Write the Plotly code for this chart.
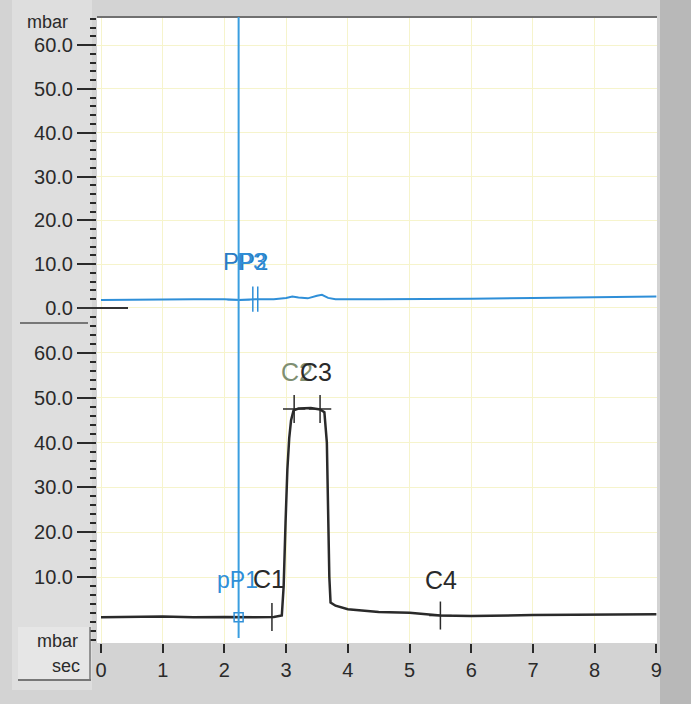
import plotly.graph_objects as go

# ---- data ----
t_top = [0, 0.5, 1.0, 1.5, 2.0, 2.25, 2.5, 2.8, 3.0, 3.1, 3.2, 3.35, 3.5, 3.58, 3.68, 3.8, 4.5, 5.0, 6.0, 7.0, 8.0, 9.0]
p_top = [1.8, 1.9, 1.95, 2.0, 2.0, 1.8, 2.0, 2.0, 2.3, 2.6, 2.4, 2.2, 2.8, 3.0, 2.3, 2.0, 2.0, 2.0, 2.1, 2.3, 2.5, 2.6]

t_bot = [0, 0.5, 1.0, 1.5, 2.0, 2.5, 2.8, 2.93, 2.96, 2.99, 3.02, 3.05, 3.08, 3.12, 3.2, 3.4, 3.55, 3.62, 3.66, 3.7, 3.72, 3.8, 4.0, 4.5, 5.0, 5.5, 6.0, 7.0, 8.0, 9.0]
p_bot = [1.0, 1.1, 1.2, 1.0, 1.1, 1.0, 1.1, 1.4, 8.0, 22.0, 34.0, 41.0, 45.0, 47.2, 47.6, 47.7, 47.4, 46.8, 40.0, 10.0, 4.3, 3.6, 2.8, 2.2, 2.0, 1.4, 1.3, 1.5, 1.6, 1.7]

cursor_t = 2.23
mark_p23_t = [2.46, 2.54]
mark_p23_v = [2.0, 2.0]
mark_c_t = [2.77, 3.13, 3.55, 5.5]
mark_c_v = [1.1, 47.5, 47.5, 1.4]
pp1_t = [2.23]
pp1_v = [1.0]

x_ticks = [0, 1, 2, 3, 4, 5, 6, 7, 8, 9]
y_top_ticks = [0, 10, 20, 30, 40, 50, 60]
y_bot_ticks = [10, 20, 30, 40, 50, 60]

FONT = "Liberation Sans, Arial, sans-serif"
BLUE = "#2f8fd8"
DARK = "#2a2a2a"
GRID = "#f6f4cc"

fig = go.Figure()

fig.add_trace(go.Scatter(x=t_top, y=p_top, mode="lines", yaxis="y2",
                         line=dict(color=BLUE, width=2), showlegend=False))
fig.add_trace(go.Scatter(x=t_bot, y=p_bot, mode="lines", yaxis="y",
                         line=dict(color=DARK, width=2.5), showlegend=False))

# cursor markers
fig.add_trace(go.Scatter(x=mark_p23_t, y=mark_p23_v, mode="markers", yaxis="y2",
                         marker=dict(symbol="line-ns", size=18, color=BLUE, line=dict(color=BLUE, width=1.5)),
                         showlegend=False))
fig.add_trace(go.Scatter(x=[cursor_t], y=[1.9], mode="markers", yaxis="y2",
                         marker=dict(symbol="line-ew", size=16, color=BLUE, line=dict(color=BLUE, width=1.5)),
                         showlegend=False))
fig.add_trace(go.Scatter(x=mark_c_t, y=mark_c_v, mode="markers", yaxis="y",
                         marker=dict(symbol="line-ns", size=20, color=DARK, line=dict(color=DARK, width=1.5)),
                         showlegend=False))
fig.add_trace(go.Scatter(x=[mark_c_t[1], mark_c_t[2], mark_c_t[3]], y=[mark_c_v[1], mark_c_v[2], mark_c_v[3]],
                         mode="markers", yaxis="y",
                         marker=dict(symbol="line-ew", size=16, color=DARK, line=dict(color=DARK, width=1.5)),
                         showlegend=False))
fig.add_trace(go.Scatter(x=pp1_t, y=pp1_v, mode="markers", yaxis="y",
                         marker=dict(symbol="square-open", size=9, color=BLUE, line=dict(color=BLUE, width=1.5)),
                         showlegend=False))

# labels
def lab(text, x, y, yref, color, size=25):
    fig.add_annotation(text=text, x=x, y=y, xref="x", yref=yref, showarrow=False,
                       xanchor="left", yanchor="middle",
                       font=dict(family=FONT, size=size, color=color))

lab("PP2", 1.95, 10.5, "y2", "#2a7cc4", 24)
lab("P3", 2.17, 10.5, "y2", "#2f8fd8", 24)
lab("pP1", 1.84, 9.3, "y", "#2f8fd8", 23)
lab("C1", 2.43, 9.6, "y", DARK)
lab("C2", 2.88, 55.8, "y", "#7f8f72")
lab("C3", 3.2, 55.8, "y", DARK)
lab("C4", 5.22, 9.3, "y", DARK)

shapes = []
W = 560.0
H = 626.0
def px(xp):
    return (xp - 97) / W
def py(yp):
    return (643 - yp) / H

# right dark strip
shapes.append(dict(type="rect", xref="paper", yref="paper", x0=px(660), x1=px(700), y0=py(710), y1=py(-10),
                   fillcolor="#b8b8b8", line=dict(width=0), layer="below"))
# left light column
shapes.append(dict(type="rect", xref="paper", yref="paper", x0=px(12), x1=px(92), y0=py(690), y1=py(0),
                   fillcolor="#dedede", line=dict(width=0), layer="below"))
# top label box border (bottom edge)
shapes.append(dict(type="line", xref="paper", yref="paper", x0=px(20), x1=px(88), y0=py(323), y1=py(323),
                   line=dict(color="#777777", width=2)))
# bottom "mbar/sec" box
shapes.append(dict(type="rect", xref="paper", yref="paper", x0=px(18), x1=px(90), y0=py(680), y1=py(627),
                   fillcolor="#e6e6e6", line=dict(width=0), layer="below"))
shapes.append(dict(type="line", xref="paper", yref="paper", x0=px(18), x1=px(91), y0=py(680), y1=py(680),
                   line=dict(color="#777777", width=2)))
shapes.append(dict(type="line", xref="paper", yref="paper", x0=px(90), x1=px(90), y0=py(680), y1=py(627),
                   line=dict(color="#777777", width=1.5)))
# top border of plot
shapes.append(dict(type="line", xref="paper", yref="paper", x0=0, x1=1, y0=1, y1=1,
                   line=dict(color="#707070", width=2)))
# cursor line
shapes.append(dict(type="line", xref="x", yref="paper", x0=cursor_t, x1=cursor_t, y0=py(638), y1=1,
                   line=dict(color="#3a9ee0", width=2)))
# short black segment at top 0.0
shapes.append(dict(type="line", xref="paper", yref="y2", x0=px(78), x1=px(128), y0=0, y1=0,
                   line=dict(color="#333333", width=2)))

fig.add_annotation(text="mbar", xref="paper", yref="paper", x=px(25), y=py(22), xanchor="left",
                   yanchor="middle", showarrow=False, font=dict(family=FONT, size=18, color=DARK))
fig.add_annotation(text="mbar", xref="paper", yref="paper", x=px(80), y=py(641), xanchor="right",
                   yanchor="middle", showarrow=False, font=dict(family=FONT, size=18, color=DARK))
fig.add_annotation(text="sec", xref="paper", yref="paper", x=px(82), y=py(666), xanchor="right",
                   yanchor="middle", showarrow=False, font=dict(family=FONT, size=18, color=DARK))

yax_common = dict(showgrid=True, gridcolor=GRID, gridwidth=1, zeroline=False, showline=False,
                  ticks="outside", ticklen=19, tickwidth=2, tickcolor=DARK, automargin=False,
                  tickformat=".1f", tickfont=dict(family=FONT, size=20, color=DARK),
                  minor=dict(dtick=2, ticks="outside", ticklen=6, tickwidth=2, tickcolor=DARK, showgrid=False),
                  fixedrange=True)

fig.update_layout(
    width=691, height=704,
    margin=dict(l=97, r=34, t=17, b=61, autoexpand=False),
    paper_bgcolor="#d3d3d3",
    plot_bgcolor="#ffffff",
    shapes=shapes,
    xaxis=dict(range=[-0.065, 9.01], tickvals=x_ticks, ticktext=[str(v) for v in x_ticks],
               showgrid=True, gridcolor=GRID, zeroline=False, showline=False, automargin=False,
               ticks="outside", ticklen=9, tickwidth=2, tickcolor=DARK, fixedrange=True,
               tickfont=dict(family=FONT, size=20, color=DARK), anchor="y"),
    yaxis=dict(domain=[0, 0.508], range=[-4.73, 66.25], tickvals=y_bot_ticks, **yax_common),
    yaxis2=dict(domain=[0.508, 1], range=[-3.88, 66.4], tickvals=y_top_ticks, anchor="x", **yax_common),
)

fig.write_html("out.html", config={"displayModeBar": False},
               post_script="document.body.style.margin='0';document.body.style.padding='0';"
                           "document.body.style.overflow='hidden';")
